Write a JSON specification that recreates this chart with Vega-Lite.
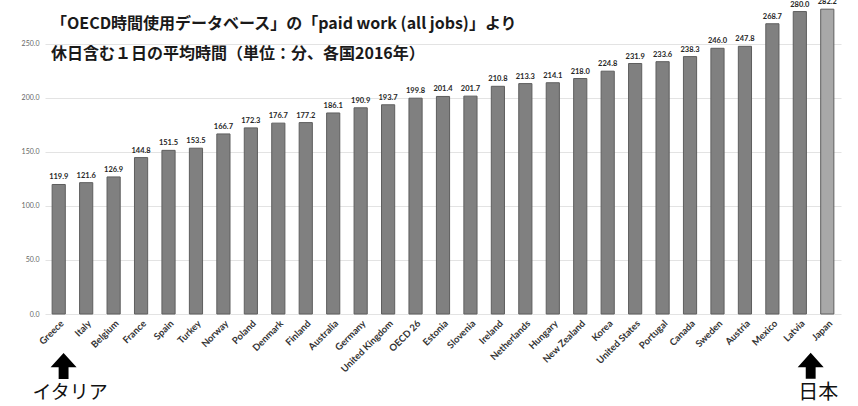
{
  "$schema": "https://vega.github.io/schema/vega-lite/v6.json",
  "width": 796,
  "height": 314,
  "autosize": "none",
  "padding": {"left": 45, "top": 0, "right": 17, "bottom": 92},
  "background": "white",
  "title": {
    "text": ["「OECD時間使用データベース」の「paid work (all jobs)」より", "休日含む１日の平均時間（単位：分、各国2016年）"],
    "anchor": "start",
    "frame": "group",
    "orient": "top",
    "baseline": "top",
    "offset": -64,
    "dx": 6,
    "font": "Noto Sans CJK JP",
    "fontSize": 16,
    "fontWeight": "bold",
    "lineHeight": 30,
    "color": "#1a1a1a"
  },
  "config": {
    "view": {"stroke": null},
    "axis": {"labelFont": "Lato", "domain": false, "ticks": false}
  },
  "datasets": {
    "bars": [
      {"country": "Greece", "minutes": 119.9},
      {"country": "Italy", "minutes": 121.6},
      {"country": "Belgium", "minutes": 126.9},
      {"country": "France", "minutes": 144.8},
      {"country": "Spain", "minutes": 151.5},
      {"country": "Turkey", "minutes": 153.5},
      {"country": "Norway", "minutes": 166.7},
      {"country": "Poland", "minutes": 172.3},
      {"country": "Denmark", "minutes": 176.7},
      {"country": "Finland", "minutes": 177.2},
      {"country": "Australia", "minutes": 186.1},
      {"country": "Germany", "minutes": 190.9},
      {"country": "United Kingdom", "minutes": 193.7},
      {"country": "OECD 26", "minutes": 199.8},
      {"country": "Estonia", "minutes": 201.4},
      {"country": "Slovenia", "minutes": 201.7},
      {"country": "Ireland", "minutes": 210.8},
      {"country": "Netherlands", "minutes": 213.3},
      {"country": "Hungary", "minutes": 214.1},
      {"country": "New Zealand", "minutes": 218.0},
      {"country": "Korea", "minutes": 224.8},
      {"country": "United States", "minutes": 231.9},
      {"country": "Portugal", "minutes": 233.6},
      {"country": "Canada", "minutes": 238.3},
      {"country": "Sweden", "minutes": 246.0},
      {"country": "Austria", "minutes": 247.8},
      {"country": "Mexico", "minutes": 268.7},
      {"country": "Latvia", "minutes": 280.0},
      {"country": "Japan", "minutes": 282.2}
    ],
    "italy": [{"country": "Italy", "label": "イタリア"}],
    "japan": [{"country": "Japan", "label": "日本"}]
  },
  "layer": [
    {
      "data": {"name": "bars"},
      "mark": {"type": "bar", "stroke": "#5e5e5e", "strokeWidth": 1},
      "encoding": {
        "x": {
          "field": "country",
          "type": "nominal",
          "sort": null,
          "scale": {"paddingInner": 0.52, "paddingOuter": 0.26},
          "axis": {
            "title": null,
            "labelAngle": -45,
            "labelFontSize": 9.5,
            "labelFontWeight": "bold",
            "labelColor": "#333333",
            "labelPadding": 4,
            "grid": false
          }
        },
        "y": {
          "field": "minutes",
          "type": "quantitative",
          "scale": {"domain": [0, 290.7], "nice": false},
          "axis": {
            "title": null,
            "values": [0, 50, 100, 150, 200, 250],
            "format": ".1f",
            "labelFontSize": 7,
            "labelColor": "#666666",
            "labelPadding": 6,
            "grid": true,
            "gridColor": "#e3e3e3",
            "gridWidth": 1
          }
        },
        "color": {
          "condition": {"test": "datum.country === 'Japan'", "value": "#a8a8a8"},
          "value": "#808080"
        }
      }
    },
    {
      "data": {"name": "bars"},
      "mark": {"type": "text", "dy": -7, "fontSize": 7.5, "fontWeight": "bold", "font": "Lato", "color": "#262626"},
      "encoding": {
        "x": {"field": "country", "type": "nominal", "sort": null},
        "y": {"field": "minutes", "type": "quantitative"},
        "text": {"field": "minutes", "type": "quantitative", "format": ".1f"}
      }
    },
    {
      "data": {"name": "italy"},
      "mark": {"type": "point", "shape": "M0,-1 L1,0.1 L0.38,0.1 L0.38,1 L-0.38,1 L-0.38,0.1 L-1,0.1 Z", "filled": true, "color": "#000000", "size": 676, "opacity": 1},
      "encoding": {
        "x": {"field": "country", "type": "nominal", "sort": null},
        "y": {"datum": 0},
        "xOffset": {"value": -16},
        "yOffset": {"value": 52}
      }
    },
    {
      "data": {"name": "italy"},
      "mark": {"type": "text", "font": "Noto Sans CJK JP", "fontSize": 19, "color": "#111111", "dx": -16, "dy": 79},
      "encoding": {
        "x": {"field": "country", "type": "nominal", "sort": null},
        "y": {"datum": 0},
        "text": {"field": "label"}
      }
    },
    {
      "data": {"name": "japan"},
      "mark": {"type": "point", "shape": "M0,-1 L1,0.1 L0.38,0.1 L0.38,1 L-0.38,1 L-0.38,0.1 L-1,0.1 Z", "filled": true, "color": "#000000", "size": 676, "opacity": 1},
      "encoding": {
        "x": {"field": "country", "type": "nominal", "sort": null},
        "y": {"datum": -48},
        "xOffset": {"value": -10}
      }
    },
    {
      "data": {"name": "japan"},
      "mark": {"type": "text", "font": "Noto Sans CJK JP", "fontSize": 20, "color": "#111111", "dx": -9},
      "encoding": {
        "x": {"field": "country", "type": "nominal", "sort": null},
        "y": {"datum": -73},
        "text": {"field": "label"}
      }
    }
  ]
}
